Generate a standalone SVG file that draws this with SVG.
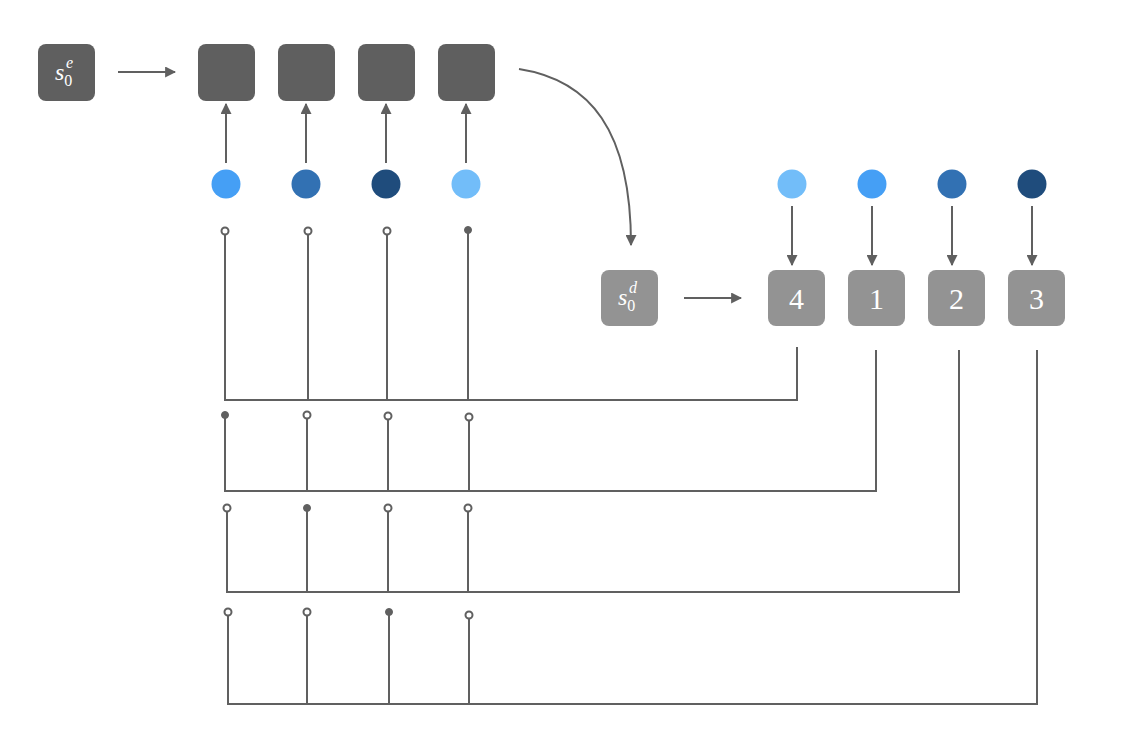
<svg xmlns="http://www.w3.org/2000/svg" width="1138" height="744" viewBox="0 0 1138 744">
<style>
.enc{fill:#5f5f5f}
.dec{fill:#939393}
.ln{stroke:#606060;stroke-width:2;fill:none}
.tap{stroke:#606060;stroke-width:2;fill:#fff}
.tapf{fill:#606060;stroke:#606060;stroke-width:1}
.lbl{font-family:"Liberation Serif",serif;fill:#fff;font-size:30px;text-anchor:middle}
.sym{font-family:"Liberation Serif",serif;fill:#fff;font-size:24px}
.it{font-style:italic}
</style>
<defs>
<marker id="ah" viewBox="0 0 10 10" refX="9" refY="5" markerWidth="5.5" markerHeight="5.5" orient="auto">
<path d="M0,0 L10,5 L0,10 z" fill="#606060"/>
</marker>
</defs>
<rect width="1138" height="744" fill="#fff"/>
<g id="s0e"><rect class="enc" x="38" y="44" width="57" height="57" rx="8"/><text class="sym" x="55" y="80"><tspan class="it">s</tspan><tspan font-size="16" dy="6">0</tspan><tspan class="it" font-size="16" x="66" dy="-18">e</tspan></text></g>
<g id="e1"><rect class="enc" x="198" y="44" width="57" height="57" rx="8"/></g>
<g id="e2"><rect class="enc" x="278" y="44" width="57" height="57" rx="8"/></g>
<g id="e3"><rect class="enc" x="358" y="44" width="57" height="57" rx="8"/></g>
<g id="e4"><rect class="enc" x="438" y="44" width="57" height="57" rx="8"/></g>
<g id="c1"><circle cx="226" cy="184" r="14.5" fill="#459ff5"/></g>
<g id="c2"><circle cx="306" cy="184" r="14.5" fill="#3271b3"/></g>
<g id="c3"><circle cx="386" cy="184" r="14.5" fill="#1f4c7c"/></g>
<g id="c4"><circle cx="466" cy="184" r="14.5" fill="#72bdf9"/></g>
<g id="dc1"><circle cx="792" cy="184" r="14.5" fill="#72bdf9"/></g>
<g id="dc2"><circle cx="872" cy="184" r="14.5" fill="#459ff5"/></g>
<g id="dc3"><circle cx="952" cy="184" r="14.5" fill="#3271b3"/></g>
<g id="dc4"><circle cx="1032" cy="184" r="14.5" fill="#1f4c7c"/></g>
<g id="s0d"><rect class="dec" x="601" y="270" width="57" height="56" rx="8"/><text class="sym" x="618" y="305"><tspan class="it">s</tspan><tspan font-size="16" dy="6">0</tspan><tspan class="it" font-size="16" x="629" dy="-18">d</tspan></text></g>
<g id="d4"><rect class="dec" x="768" y="270" width="57" height="56" rx="8"/><text class="lbl" x="796.5" y="309">4</text></g>
<g id="d1"><rect class="dec" x="848" y="270" width="57" height="56" rx="8"/><text class="lbl" x="876.5" y="309">1</text></g>
<g id="d2"><rect class="dec" x="928" y="270" width="57" height="56" rx="8"/><text class="lbl" x="956.5" y="309">2</text></g>
<g id="d3"><rect class="dec" x="1008" y="270" width="57" height="56" rx="8"/><text class="lbl" x="1036.5" y="309">3</text></g>
<g id="connectors">
<line class="ln" x1="118" y1="72" x2="175" y2="72" marker-end="url(#ah)"/>
<line class="ln" x1="684" y1="298" x2="741" y2="298" marker-end="url(#ah)"/>
<line class="ln" x1="226" y1="163" x2="226" y2="104" marker-end="url(#ah)"/>
<line class="ln" x1="306" y1="163" x2="306" y2="104" marker-end="url(#ah)"/>
<line class="ln" x1="386" y1="163" x2="386" y2="104" marker-end="url(#ah)"/>
<line class="ln" x1="466" y1="163" x2="466" y2="104" marker-end="url(#ah)"/>
<line class="ln" x1="792" y1="206" x2="792" y2="265" marker-end="url(#ah)"/>
<line class="ln" x1="872" y1="206" x2="872" y2="265" marker-end="url(#ah)"/>
<line class="ln" x1="952" y1="206" x2="952" y2="265" marker-end="url(#ah)"/>
<line class="ln" x1="1032" y1="206" x2="1032" y2="265" marker-end="url(#ah)"/>
<path class="ln" d="M519,69 C590,80 631,130 631,245" marker-end="url(#ah)"/>
<!-- row 1 -->
<path class="ln" d="M225,234 V400 H797 V347"/>
<line class="ln" x1="308" y1="234" x2="308" y2="400"/>
<line class="ln" x1="387" y1="234" x2="387" y2="400"/>
<line class="ln" x1="468" y1="232" x2="468" y2="400"/>
<circle class="tap" cx="225" cy="231" r="3.5"/>
<circle class="tap" cx="308" cy="231" r="3.5"/>
<circle class="tap" cx="387" cy="231" r="3.5"/>
<circle class="tapf" cx="468" cy="230" r="3.5"/>
<!-- row 2 -->
<path class="ln" d="M225,417 V491 H876 V350"/>
<line class="ln" x1="307" y1="418" x2="307" y2="491"/>
<line class="ln" x1="388" y1="419" x2="388" y2="491"/>
<line class="ln" x1="469" y1="420" x2="469" y2="491"/>
<circle class="tapf" cx="225" cy="415" r="3.5"/>
<circle class="tap" cx="307" cy="415" r="3.5"/>
<circle class="tap" cx="388" cy="416" r="3.5"/>
<circle class="tap" cx="469" cy="417" r="3.5"/>
<!-- row 3 -->
<path class="ln" d="M227,511 V592 H959 V350"/>
<line class="ln" x1="307" y1="510" x2="307" y2="592"/>
<line class="ln" x1="388" y1="511" x2="388" y2="592"/>
<line class="ln" x1="468" y1="511" x2="468" y2="592"/>
<circle class="tap" cx="227" cy="508" r="3.5"/>
<circle class="tapf" cx="307" cy="508" r="3.5"/>
<circle class="tap" cx="388" cy="508" r="3.5"/>
<circle class="tap" cx="468" cy="508" r="3.5"/>
<!-- row 4 -->
<path class="ln" d="M228,615 V704 H1037 V350"/>
<line class="ln" x1="307" y1="615" x2="307" y2="704"/>
<line class="ln" x1="389" y1="614" x2="389" y2="704"/>
<line class="ln" x1="469" y1="618" x2="469" y2="704"/>
<circle class="tap" cx="228" cy="612" r="3.5"/>
<circle class="tap" cx="307" cy="612" r="3.5"/>
<circle class="tapf" cx="389" cy="612" r="3.5"/>
<circle class="tap" cx="469" cy="615" r="3.5"/>
</g>
</svg>
